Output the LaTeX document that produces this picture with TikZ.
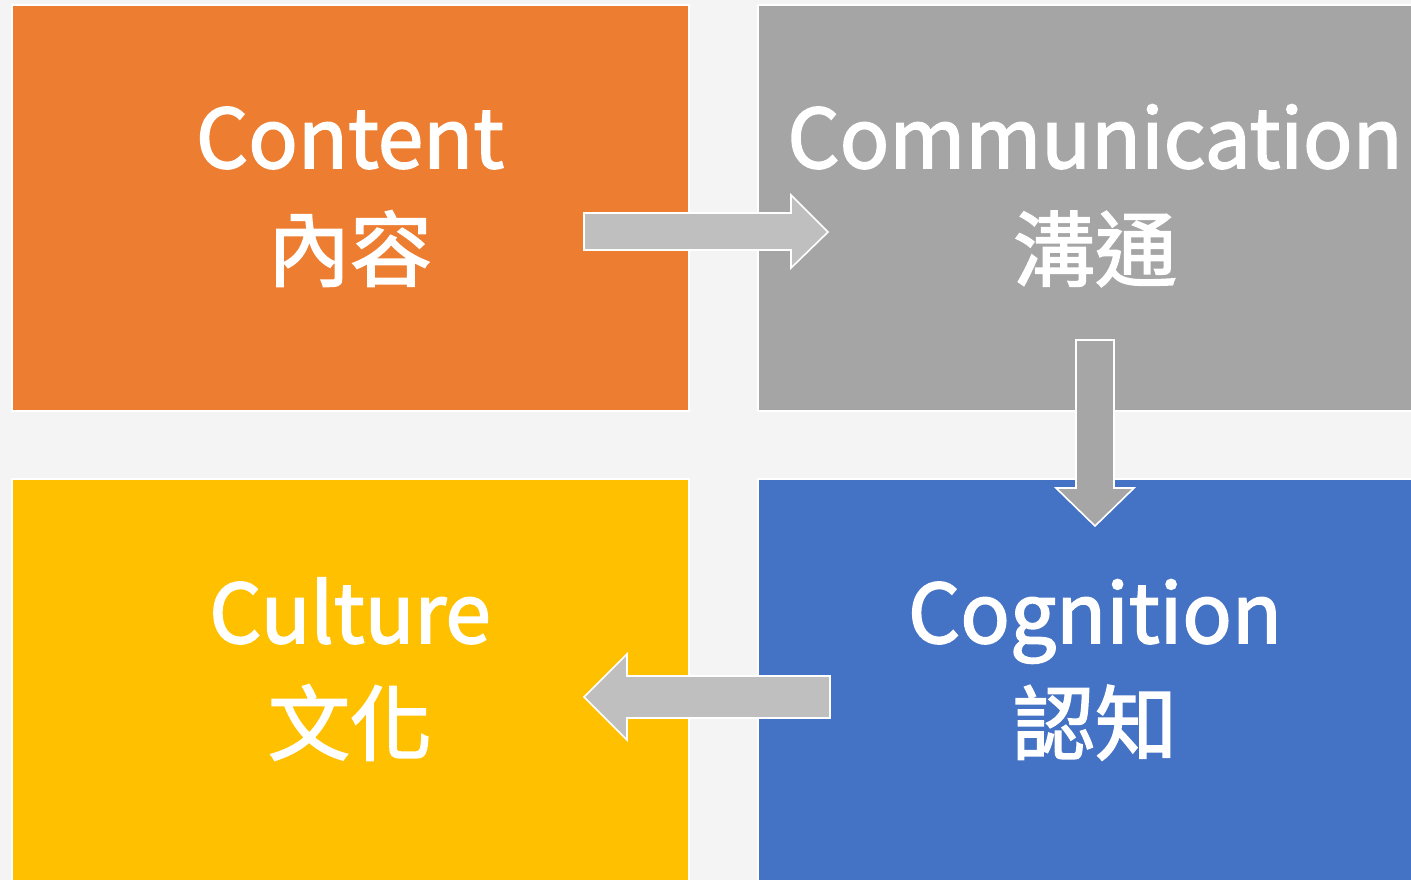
\documentclass[tikz,border=0pt]{standalone}
\usepackage{fontspec}
\newfontfamily\cjk[FakeBold=2]{Noto Sans CJK TC}
\usepackage{tikz}
\usetikzlibrary{positioning}

\definecolor{bgcol}{HTML}{F4F4F4}
\definecolor{contentcol}{HTML}{ED7D31}
\definecolor{commcol}{HTML}{A5A5A5}
\definecolor{cultcol}{HTML}{FFC000}
\definecolor{cogcol}{HTML}{4472C4}
\definecolor{arrowlight}{HTML}{BFBFBF}
\definecolor{arrowdark}{HTML}{A6A6A6}

\begin{document}
\begin{tikzpicture}[x=0.75pt,y=-0.75pt]

\tikzset{quadrant/.style={draw=white, line width=1.5pt, minimum width=677*0.75pt,
    minimum height=406*0.75pt, anchor=north west, inner sep=0pt},
  headline/.style={text=white, anchor=base, font=\cjk\fontsize{61.5}{70}\selectfont},
  blockarrow/.style={draw=white, line width=1.2pt, line join=miter}}

\useasboundingbox (0,0) rectangle (1411,880);
\clip (0,0) rectangle (1411,880);
\fill[bgcol] (0,0) rectangle (1411,880);

% the four fields
\node[quadrant, fill=contentcol] (content) at (11,4) {};
\node[quadrant, fill=commcol] (communication) at (757,4) {};
\node[quadrant, fill=cultcol] (culture) at (11,478) {};
\node[quadrant, fill=cogcol] (cognition) at (757,478) {};

% arrows
\draw[blockarrow, fill=arrowlight] (584,213) -- (791,213) -- (791,195) -- (828,232)
  -- (791,268) -- (791,250) -- (584,250) -- cycle;
\draw[blockarrow, fill=arrowdark] (1076,340) -- (1114,340) -- (1114,488) -- (1134,488)
  -- (1095,526) -- (1056,488) -- (1076,488) -- cycle;
\draw[blockarrow, fill=arrowlight] (830,676) -- (627,676) -- (627,654) -- (584,697)
  -- (627,740) -- (627,718) -- (830,718) -- cycle;

% labels
\node[headline] (content-en) at (350,168) {Content};
\node[headline] (content-zh) at (350,280) {內容};
\node[headline] (communication-en) at (1095,168) {Communication};
\node[headline] (communication-zh) at (1095,280) {溝通};
\node[headline] (culture-en) at (350,643) {Culture};
\node[headline] (culture-zh) at (350,754) {文化};
\node[headline] (cognition-en) at (1095,643) {Cognition};
\node[headline] (cognition-zh) at (1095,754) {認知};

\end{tikzpicture}
\end{document}
